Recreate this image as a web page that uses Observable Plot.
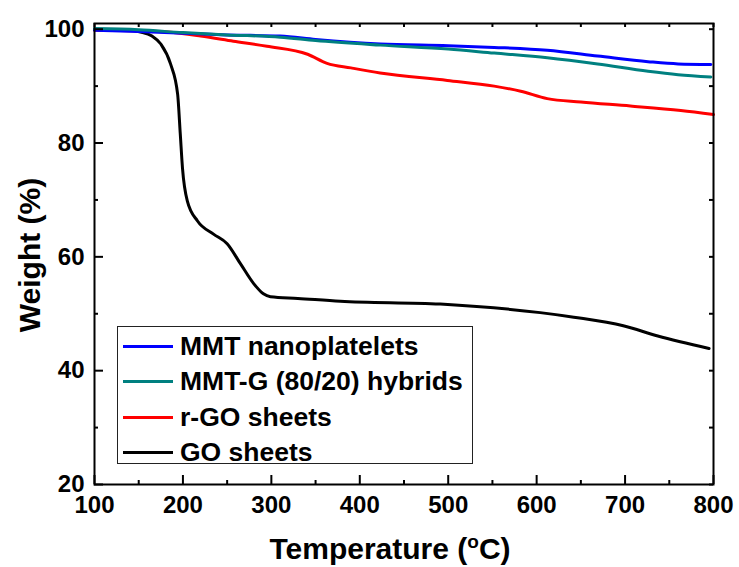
<!DOCTYPE html>
<html><head><meta charset="utf-8">
<script src="https://cdn.jsdelivr.net/npm/d3@7"></script>
<script src="https://cdn.jsdelivr.net/npm/@observablehq/plot@0.6"></script>
<style>
body{margin:0;background:#fff;font-family:"Liberation Sans",Arial,sans-serif;}
#wrap{position:relative;width:739px;height:567px;overflow:hidden;}
#wrap svg{position:absolute;left:0;top:0;}
.ttl{position:absolute;font-weight:bold;font-size:30px;color:#000;white-space:nowrap;line-height:1;}
#xt{left:390px;top:534px;transform:translateX(-50%);}
#yt{left:30px;top:255px;transform:translate(-50%,-50%) rotate(-90deg);}
#xt sup{font-size:19px;vertical-align:0;position:relative;top:-11px;}
#legend{position:absolute;left:117px;top:326px;width:356px;height:138px;border:1px solid #222;background:#fff;box-sizing:border-box;}
.row{position:absolute;left:5px;height:30px;display:flex;align-items:center;font-weight:bold;font-size:26.5px;color:#000;white-space:nowrap;}
.sw{width:50px;height:3px;margin-right:7px;}
</style></head><body><div id="wrap"></div><script>
const xTicks = [100, 200, 300, 400, 500, 600, 700, 800];
const xMinor = [150, 250, 350, 450, 550, 650, 750];
const yTicks = [20, 40, 60, 80, 100];
const yMinor = [30, 50, 70, 90];

const seriesNames = ["MMT nanoplatelets", "MMT-G (80/20) hybrids", "r-GO sheets", "GO sheets"];
const seriesColors = ["#0000ff", "#008080", "#ff0000", "#000000"];

const mmtT = [100, 150, 200, 250, 310, 350, 423, 500, 552, 612, 669, 726, 760, 797];
const mmtW = [99.8, 99.6, 99.3, 99.0, 98.8, 98.2, 97.4, 97.1, 96.8, 96.3, 95.3, 94.3, 93.9, 93.8];

const hybT = [100, 150, 200, 250, 310, 350, 423, 500, 552, 612, 669, 726, 760, 797];
const hybW = [100.1, 99.9, 99.4, 99.0, 98.6, 98.0, 97.2, 96.5, 95.8, 95.0, 93.9, 92.6, 92.0, 91.6];

const rgoT = [100, 150, 183, 220, 257, 295, 341, 363, 390, 423, 499, 552, 582, 612, 650, 706, 763, 800];
const rgoW = [99.8, 99.7, 99.5, 98.8, 97.9, 97.0, 95.6, 94.0, 93.2, 92.3, 91.0, 90.0, 89.1, 87.8, 87.2, 86.5, 85.7, 85.0];

const goT = [100, 140, 152, 165, 175, 186, 194, 197, 199.5, 205, 216.5, 234.6, 250, 265, 280, 291, 299, 330, 378, 491, 604, 642, 698, 737, 795];
const goW = [99.9, 99.8, 99.5, 98.8, 97.4, 93.9, 88.6, 81.6, 75.6, 69.8, 66.3, 64.0, 62.3, 58.8, 55.3, 53.5, 53.0, 52.7, 52.2, 51.7, 50.2, 49.4, 47.9, 46.1, 43.9];

const toRows = (name, T, W) => T.map((t, i) => ({name, t, w: W[i]}));
const series = [
  toRows(seriesNames[3], goT, goW),
  toRows(seriesNames[2], rgoT, rgoW),
  toRows(seriesNames[0], mmtT, mmtW),
  toRows(seriesNames[1], hybT, hybW)
];
const colorOf = Object.fromEntries(seriesNames.map((n, i) => [n, seriesColors[i]]));

const W = 739, H = 567, mL = 94, mR = 26, mT = 23, mB = 83;
const fw = W - mL - mR, fh = H - mT - mB;
// inward ticks: full-frame rules shortened by insets
const tickB = (d, len) => Plot.ruleX(d, {x: v => v, insetTop: fh - len, stroke: "#000", strokeWidth: 2});
const tickT = (d, len) => Plot.ruleX(d, {x: v => v, insetBottom: fh - len, stroke: "#000", strokeWidth: 2});
const tickL = (d, len) => Plot.ruleY(d, {y: v => v, insetRight: fw - len, stroke: "#000", strokeWidth: 2});
const tickR = (d, len) => Plot.ruleY(d, {y: v => v, insetLeft: fw - len, stroke: "#000", strokeWidth: 2});

const txt = {fontSize: 24, fontWeight: "bold", fill: "#000"};
const chart = Plot.plot({
  width: W, height: H,
  marginLeft: mL, marginRight: mR, marginTop: mT, marginBottom: mB,
  style: {fontFamily: "'Liberation Sans', Arial, sans-serif", background: "#fff", color: "#000"},
  x: {domain: [100, 800]},
  y: {domain: [20, 101]},
  marks: [
    ...series.map(rows => Plot.line(rows, {x: "t", y: "w", stroke: colorOf[rows[0].name], strokeWidth: 3, curve: "monotone-x"})),
    Plot.axisX({anchor: "bottom", ticks: xTicks, tickSize: 0, tickPadding: 11, tickFormat: d => String(d), label: null, ...txt}),
    Plot.axisY({anchor: "left", ticks: yTicks, tickSize: 0, tickPadding: 10, tickFormat: d => String(d), label: null, ...txt}),
    tickB(xTicks, 9),
    tickB(xMinor, 4),
    tickT(xTicks.concat(xMinor), 4),
    tickL(yTicks, 9),
    tickL(yMinor, 4),
    tickR(yTicks.concat(yMinor), 4),
    Plot.frame({stroke: "#000", strokeWidth: 2})
  ]
});
const wrap = document.getElementById("wrap");
wrap.appendChild(chart);

const xt = document.createElement("div");
xt.className = "ttl"; xt.id = "xt";
xt.innerHTML = "Temperature (<sup>o</sup>C)";
wrap.appendChild(xt);
const yt = document.createElement("div");
yt.className = "ttl"; yt.id = "yt";
yt.textContent = "Weight (%)";
wrap.appendChild(yt);

const lg = document.createElement("div");
lg.id = "legend";
seriesNames.forEach((n, i) => {
  const r = document.createElement("div");
  r.className = "row";
  r.style.top = (4 + i * 35.5) + "px";
  const sw = document.createElement("span");
  sw.className = "sw"; sw.style.background = seriesColors[i];
  const s = document.createElement("span");
  s.textContent = n;
  r.appendChild(sw); r.appendChild(s);
  lg.appendChild(r);
});
wrap.appendChild(lg);
</script></body></html>
